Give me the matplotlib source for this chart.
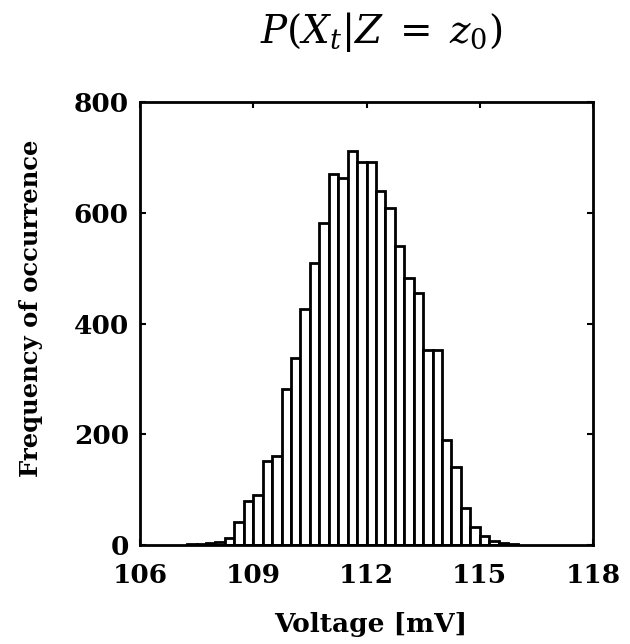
import numpy as np
import matplotlib.pyplot as plt

# Histogram data (bin width 0.25 mV)
bin_left = np.arange(107.25, 116.0, 0.25)
counts = [1, 2, 4, 6, 12, 41, 80, 91, 152, 161, 281, 337, 427, 510, 582,
          670, 663, 712, 691, 691, 639, 609, 540, 483, 455, 352, 352, 189,
          140, 67, 33, 17, 7, 3, 1]
bin_width = 0.25

xticks = [106, 109, 112, 115, 118]
yticks = [0, 200, 400, 600, 800]

plt.rcParams['mathtext.fontset'] = 'dejavuserif'
font = {'family': 'DejaVu Serif', 'weight': 'bold'}

fig = plt.figure(figsize=(6.3, 6.44), dpi=100)
ax = fig.add_axes([0.2222, 0.1537, 0.7191, 0.6879])

ax.bar(bin_left, counts, width=bin_width, align='edge',
       facecolor='white', edgecolor='black', linewidth=2)

ax.set_xlim(106, 118)
ax.set_ylim(0, 800)
ax.set_xticks(xticks)
ax.set_yticks(yticks)
ax.set_xticklabels([str(t) for t in xticks], fontdict=font, fontsize=19)
ax.set_yticklabels([str(t) for t in yticks], fontdict=font, fontsize=19)
ax.tick_params(direction='in', top=True, right=True, length=4, width=1.5)
ax.tick_params(axis='x', pad=13)
ax.tick_params(axis='y', pad=8)
for s in ax.spines.values():
    s.set_linewidth(2)

ax.set_xlabel('Voltage [mV]', fontdict=font, fontsize=19, va='top')
ax.xaxis.set_label_coords(0.51, -0.151)
ax.set_ylabel('Frequency of occurrence', fontdict=font, fontsize=17.5)
ax.yaxis.set_label_coords(-0.214, 0.535)

fig.text(0.605, 0.933, r'$P(X_t|Z\;=\;z_0)$', fontsize=28,
         ha='center', va='baseline')

fig.savefig('out.png', dpi=100)
